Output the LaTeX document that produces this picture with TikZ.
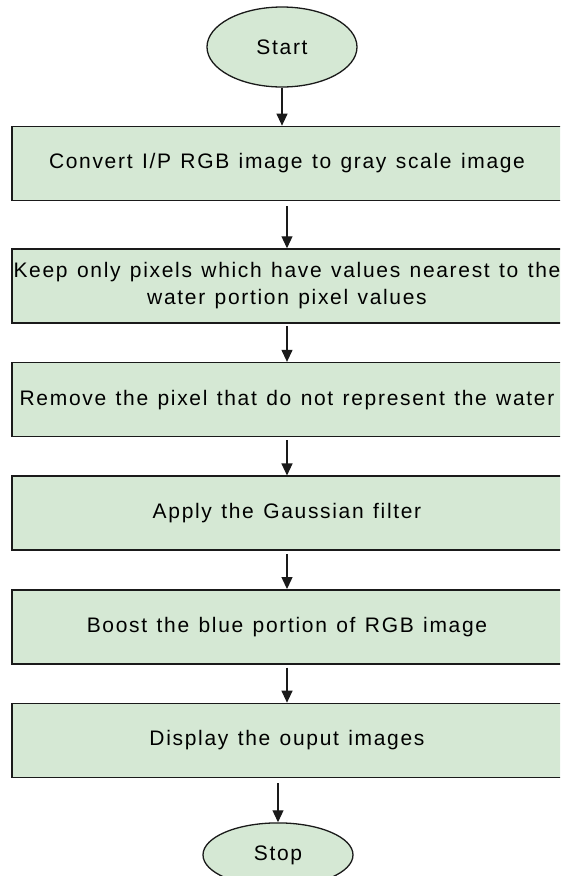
\documentclass[tikz,border=0pt]{standalone}
\usepackage{fontspec}
\setmainfont{Liberation Sans}[LetterSpace=8,WordSpace=1.25]
\usetikzlibrary{arrows.meta,positioning,shapes.geometric}
\definecolor{FlowFill}{HTML}{D5E8D4}
\definecolor{FlowLine}{HTML}{1A1A1A}

\begin{document}
\begin{tikzpicture}[x=1pt,y=-1pt,
  term/.style={ellipse,draw=FlowLine,line width=1.3pt,fill=FlowFill,minimum width=150pt,inner sep=0pt,font=\fontsize{21}{27}\selectfont},
  stepbox/.style={rectangle,draw=FlowLine,line width=1.6pt,fill=FlowFill,minimum width=550pt,minimum height=74pt,inner xsep=0pt,align=center,font=\fontsize{21}{27}\selectfont},
  arr/.style={-{Triangle[length=12pt,width=11pt]},line width=1.2pt,draw=FlowLine},
  node distance=38pt
]
\useasboundingbox (0,0) rectangle (560,876);
\clip (0,0) rectangle (560,876);
% terminals and steps
\node[term,minimum height=80pt] (start) at (282,47) {Start};
\node[stepbox,below=38pt of start,xshift=5pt] (b1) {Convert I/P RGB image to gray scale image};
\node[stepbox,below=47pt of b1] (b2) {Keep only pixels which have values nearest to the\\water portion pixel values};
\node[stepbox,below=of b2] (b3) {Remove the pixel that do not represent the water};
\node[stepbox,below=of b3] (b4) {Apply the Gaussian filter};
\node[stepbox,below=of b4] (b5) {Boost the blue portion of RGB image};
\node[stepbox,below=of b5] (b6) {Display the ouput images};
\node[term,minimum height=64pt,below=44pt of b6,xshift=-9pt] (stop) {Stop};
% arrows
\draw[arr] (start.south) -- (start.south |- b1.north);
\draw[arr,shorten <=5pt] (b1) -- (b2);
\draw[arr,shorten <=2pt] (b2) -- (b3);
\draw[arr,shorten <=3pt] (b3) -- (b4);
\draw[arr,shorten <=3pt] (b4) -- (b5);
\draw[arr,shorten <=3pt] (b5) -- (b6);
\draw[arr,shorten <=5pt] (stop |- b6.south) -- (stop.north);
\end{tikzpicture}
\end{document}
